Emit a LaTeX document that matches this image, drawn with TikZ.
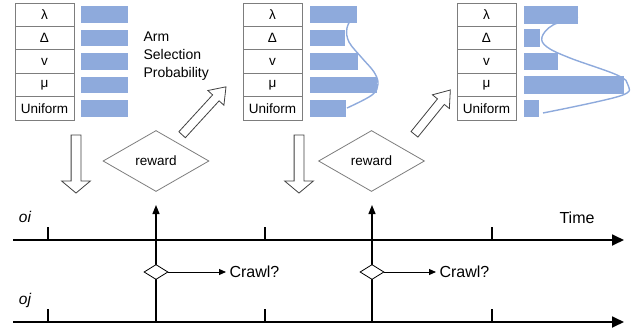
\documentclass[tikz,border=0pt]{standalone}
\usepackage{fontspec}
\setmainfont{Liberation Sans}
\usetikzlibrary{shapes.geometric,shapes.arrows,arrows.meta}
\definecolor{barblue}{RGB}{142,170,220}
\definecolor{cellgray}{RGB}{125,125,125}
\begin{document}
\begin{tikzpicture}[x=1pt,y=-1pt,
  cell/.style={draw=cellgray, fill=white, minimum width=59pt, minimum height=23.4pt, inner sep=0pt, line width=0.8pt, font=\fontsize{13.5}{15}\selectfont},
  bar/.style={fill=barblue},
  fitcurve/.style={draw=barblue, line width=1.4pt, smooth, tension=0.6},
  hollowdown/.style={single arrow, draw=black!75, fill=white, line width=0.8pt, inner xsep=0pt, inner ysep=4.5pt, single arrow head extend=9.5pt, single arrow tip angle=100, single arrow head indent=0pt, rotate=-90},
  hollowdiag/.style={single arrow, draw=black!75, fill=white, line width=0.8pt, inner xsep=0pt, inner ysep=4pt, single arrow head extend=6.5pt, single arrow tip angle=72, single arrow head indent=0pt},
  rewardbox/.style={diamond, draw=cellgray, fill=white, line width=0.8pt, minimum width=106pt, minimum height=61pt, inner sep=0pt, font=\fontsize{13.5}{15}\selectfont},
  smalldia/.style={diamond, draw=black, fill=white, line width=0.8pt, minimum width=24pt, minimum height=15pt, inner sep=0pt},
  timeline/.style={line width=1.8pt, -{Triangle[length=12pt,width=11pt]}},
  tick/.style={line width=1.8pt},
  uparrow/.style={line width=1.2pt, -{Triangle[length=9pt,width=7pt]}},
  crawlarrow/.style={line width=1pt, -{Triangle[length=7pt,width=6pt]}},
  bigtext/.style={font=\fontsize{16}{18}\selectfont},
  lanelabel/.style={font=\fontsize{15.5}{18}\selectfont\itshape}
]
\useasboundingbox (0,0) rectangle (641,333);

% ---- tables ----
\foreach \lab [count=\i] in {λ,Δ,v,μ,Uniform} {
  \node[cell] (ta\i) at (44.5,{3+23.4*\i-11.7}) {\lab};
  \node[cell] (tb\i) at (272.5,{3+23.4*\i-11.7}) {\lab};
  \node[cell] (tc\i) at (486.5,{3+23.4*\i-11.7}) {\lab};
}
% ---- bars ----
\foreach \e [count=\i] in {128,128,128,128,128}
  \fill[bar] (81,{3+23.4*\i-11.7-8.3}) rectangle (\e,{3+23.4*\i-11.7+8.3});
\foreach \e [count=\i] in {357,345,358,377,346}
  \fill[bar] (310,{3+23.4*\i-11.7-8.3}) rectangle (\e,{3+23.4*\i-11.7+8.3});
\foreach \e [count=\i] in {578,540,558,624,539}
  \fill[bar] (524,{3+23.4*\i-11.7-8.8}) rectangle (\e,{3+23.4*\i-11.7+8.8});

% ---- fitted curves ----
\draw[fitcurve] plot coordinates {(354,14) (347,28) (349,42) (362,58) (374,72) (378,84) (372,95) (347,108)};
\draw[fitcurve] plot coordinates {(578,17) (553,25) (542,37) (547,47) (570,58) (617,75) (628,85) (620,96) (543,113)};

\node[anchor=west, align=left, font=\fontsize{14}{18}\selectfont] (armlabel) at (140,56) {Arm\\Selection\\Probability};

% ---- hollow block arrows ----
\node[hollowdown, minimum height=58pt] (down1) at (76,162) {};
\node[hollowdown, minimum height=58pt] (down2) at (299,162) {};
\node[hollowdiag, minimum height=65pt, rotate=47.5] (diag1) at (202,113) {};
\node[hollowdiag, minimum height=57pt, rotate=51] (diag2) at (430.5,114.5) {};

% ---- reward diamonds ----
\node[rewardbox] (rew1) at (156,161) {reward};
\node[rewardbox] (rew2) at (371.5,161) {reward};

% ---- timelines ----
\coordinate (oistart) at (13,240);
\coordinate (oiend) at (624,240);
\coordinate (ojstart) at (13,322);
\coordinate (ojend) at (624,322);
\draw[timeline] (oistart) -- (oiend);
\draw[timeline] (ojstart) -- (ojend);
\foreach \x in {48,265,492} {
  \draw[tick] (\x,240) -- (\x,227);
  \draw[tick] (\x,322) -- (\x,309);
}
\node[lanelabel] (oi) at (25,217) {oi};
\node[lanelabel] (oj) at (25,300) {oj};
\node[bigtext] (time) at (577,218) {Time};

% ---- vertical arrows and crawl decisions ----
\coordinate (v1bot) at (156,322);
\coordinate (v1top) at (156,205);
\coordinate (v2bot) at (372,322);
\coordinate (v2top) at (372,205);
\draw[uparrow] (v1bot) -- (v1top);
\draw[uparrow] (v2bot) -- (v2top);
\node[smalldia] (d1) at (156,272) {};
\node[smalldia] (d2) at (372,272) {};
\node[bigtext, anchor=west] (crawl1) at (226,272) {Crawl?};
\node[bigtext, anchor=west] (crawl2) at (436,272) {Crawl?};
\draw[crawlarrow] (d1.east) -- (crawl1.west);
\draw[crawlarrow] (d2.east) -- (crawl2.west);
\end{tikzpicture}
\end{document}
